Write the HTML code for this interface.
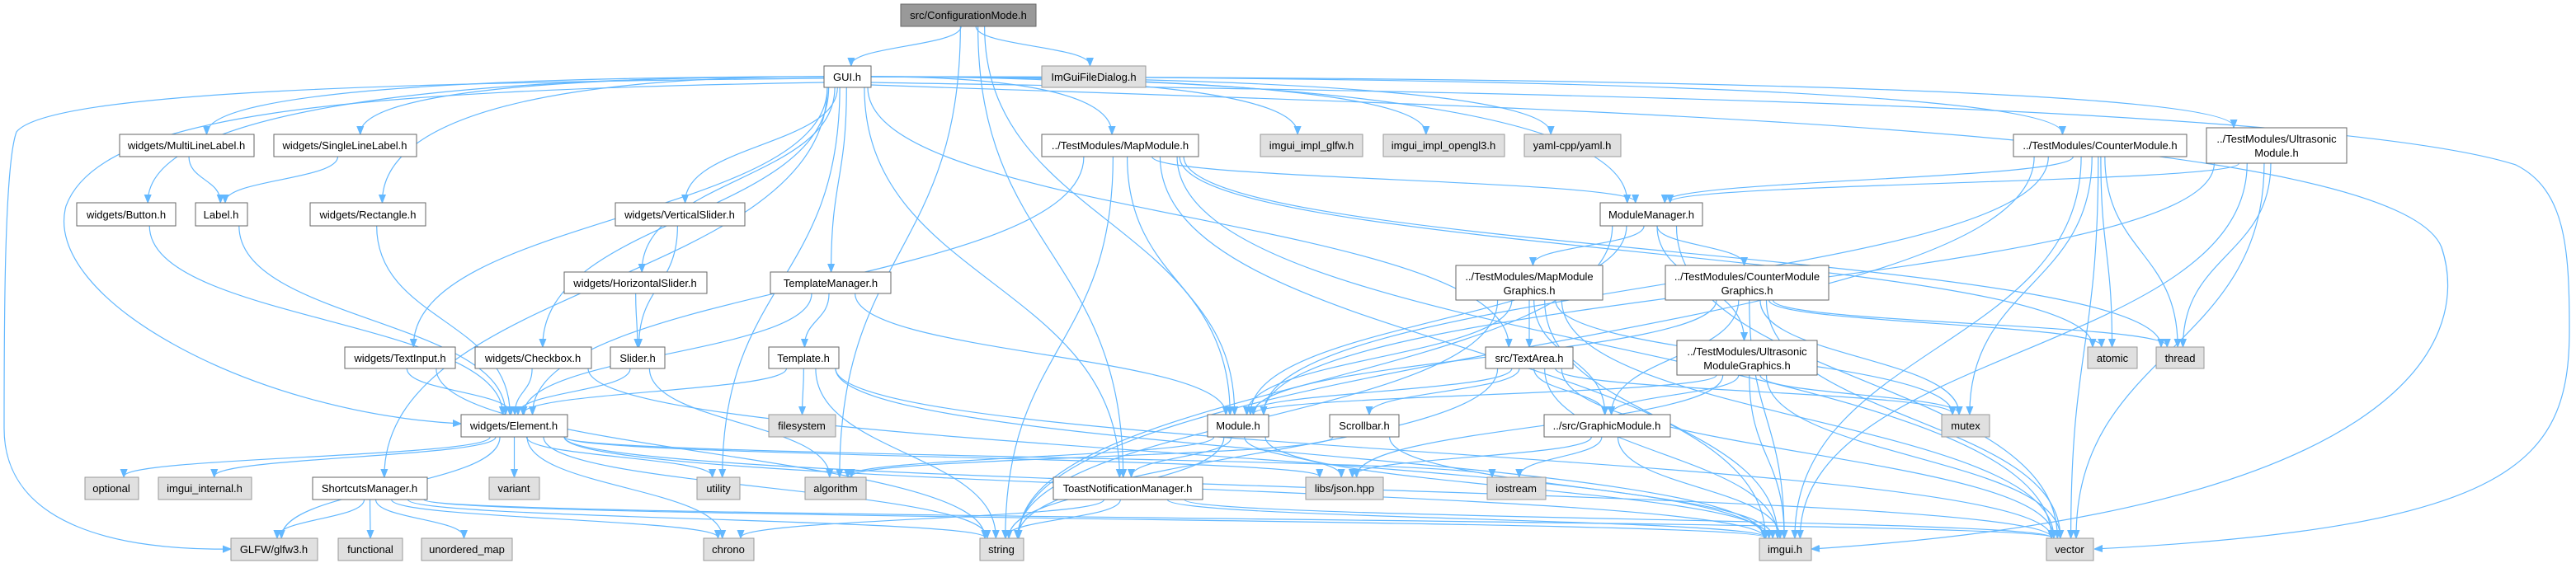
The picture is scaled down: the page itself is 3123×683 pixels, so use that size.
<!DOCTYPE html>
<html><head><meta charset="utf-8"><style>
html,body{margin:0;padding:0;background:#fff;}
svg{display:block;}
text{font-family:"Liberation Sans",sans-serif;font-size:13px;fill:#000;}
</style></head><body>
<svg id="g" width="3123" height="683" viewBox="0 0 3123 683" xmlns="http://www.w3.org/2000/svg">
<defs><marker id="ah" markerWidth="10" markerHeight="10" refX="9" refY="5" orient="auto" markerUnits="userSpaceOnUse"><path d="M0,1 L10,5 L0,9 z" fill="#63b8ff" stroke="#63b8ff"/></marker></defs>
<g id="edges" fill="none" stroke="#63b8ff" stroke-width="1.2"></g>
<g id="nodes">
<rect x="1092" y="5" width="164" height="27" fill="#999" stroke="#666"/><text x="1174" y="23" text-anchor="middle">src/ConfigurationMode.h</text>
<rect x="999" y="80" width="57" height="26" fill="#fff" stroke="#666"/><text x="1027" y="98" text-anchor="middle">GUI.h</text>
<rect x="1263" y="80" width="126" height="26" fill="#e0e0e0" stroke="#999"/><text x="1326" y="98" text-anchor="middle">ImGuiFileDialog.h</text>
<rect x="145" y="163" width="163" height="27" fill="#fff" stroke="#666"/><text x="226" y="181" text-anchor="middle">widgets/MultiLineLabel.h</text>
<rect x="332" y="163" width="173" height="27" fill="#fff" stroke="#666"/><text x="418" y="181" text-anchor="middle">widgets/SingleLineLabel.h</text>
<rect x="1263" y="163" width="190" height="27" fill="#fff" stroke="#666"/><text x="1358" y="181" text-anchor="middle">../TestModules/MapModule.h</text>
<rect x="1528" y="163" width="124" height="27" fill="#e0e0e0" stroke="#999"/><text x="1590" y="181" text-anchor="middle">imgui_impl_glfw.h</text>
<rect x="1677" y="163" width="147" height="27" fill="#e0e0e0" stroke="#999"/><text x="1750" y="181" text-anchor="middle">imgui_impl_opengl3.h</text>
<rect x="1848" y="163" width="117" height="27" fill="#e0e0e0" stroke="#999"/><text x="1906" y="181" text-anchor="middle">yaml-cpp/yaml.h</text>
<rect x="2441" y="163" width="210" height="27" fill="#fff" stroke="#666"/><text x="2546" y="181" text-anchor="middle">../TestModules/CounterModule.h</text>
<rect x="2675" y="155" width="170" height="43" fill="#fff" stroke="#666"/><text x="2760" y="173" text-anchor="middle">../TestModules/Ultrasonic</text><text x="2760" y="190" text-anchor="middle">Module.h</text>
<rect x="93" y="246" width="120" height="28" fill="#fff" stroke="#666"/><text x="153" y="265" text-anchor="middle">widgets/Button.h</text>
<rect x="237" y="246" width="63" height="28" fill="#fff" stroke="#666"/><text x="268" y="265" text-anchor="middle">Label.h</text>
<rect x="376" y="246" width="140" height="28" fill="#fff" stroke="#666"/><text x="446" y="265" text-anchor="middle">widgets/Rectangle.h</text>
<rect x="746" y="246" width="157" height="28" fill="#fff" stroke="#666"/><text x="824" y="265" text-anchor="middle">widgets/VerticalSlider.h</text>
<rect x="1940" y="246" width="124" height="28" fill="#fff" stroke="#666"/><text x="2002" y="265" text-anchor="middle">ModuleManager.h</text>
<rect x="684" y="330" width="173" height="26" fill="#fff" stroke="#666"/><text x="770" y="348" text-anchor="middle">widgets/HorizontalSlider.h</text>
<rect x="934" y="330" width="146" height="26" fill="#fff" stroke="#666"/><text x="1007" y="348" text-anchor="middle">TemplateManager.h</text>
<rect x="1765" y="322" width="178" height="42" fill="#fff" stroke="#666"/><text x="1854" y="340" text-anchor="middle">../TestModules/MapModule</text><text x="1854" y="357" text-anchor="middle">Graphics.h</text>
<rect x="2019" y="322" width="198" height="42" fill="#fff" stroke="#666"/><text x="2118" y="340" text-anchor="middle">../TestModules/CounterModule</text><text x="2118" y="357" text-anchor="middle">Graphics.h</text>
<rect x="418" y="421" width="134" height="26" fill="#fff" stroke="#666"/><text x="485" y="439" text-anchor="middle">widgets/TextInput.h</text>
<rect x="576" y="421" width="141" height="26" fill="#fff" stroke="#666"/><text x="646" y="439" text-anchor="middle">widgets/Checkbox.h</text>
<rect x="740" y="421" width="66" height="26" fill="#fff" stroke="#666"/><text x="773" y="439" text-anchor="middle">Slider.h</text>
<rect x="932" y="421" width="85" height="26" fill="#fff" stroke="#666"/><text x="974" y="439" text-anchor="middle">Template.h</text>
<rect x="1801" y="421" width="106" height="26" fill="#fff" stroke="#666"/><text x="1854" y="439" text-anchor="middle">src/TextArea.h</text>
<rect x="2033" y="413" width="170" height="42" fill="#fff" stroke="#666"/><text x="2118" y="431" text-anchor="middle">../TestModules/Ultrasonic</text><text x="2118" y="448" text-anchor="middle">ModuleGraphics.h</text>
<rect x="2531" y="421" width="60" height="26" fill="#e0e0e0" stroke="#999"/><text x="2561" y="439" text-anchor="middle">atomic</text>
<rect x="2614" y="421" width="58" height="26" fill="#e0e0e0" stroke="#999"/><text x="2643" y="439" text-anchor="middle">thread</text>
<rect x="559" y="503" width="129" height="27" fill="#fff" stroke="#666"/><text x="623" y="521" text-anchor="middle">widgets/Element.h</text>
<rect x="932" y="503" width="81" height="27" fill="#e0e0e0" stroke="#999"/><text x="972" y="521" text-anchor="middle">filesystem</text>
<rect x="1464" y="503" width="74" height="27" fill="#fff" stroke="#666"/><text x="1501" y="521" text-anchor="middle">Module.h</text>
<rect x="1612" y="503" width="84" height="27" fill="#fff" stroke="#666"/><text x="1654" y="521" text-anchor="middle">Scrollbar.h</text>
<rect x="1872" y="503" width="153" height="27" fill="#fff" stroke="#666"/><text x="1948" y="521" text-anchor="middle">../src/GraphicModule.h</text>
<rect x="2354" y="503" width="58" height="27" fill="#e0e0e0" stroke="#999"/><text x="2383" y="521" text-anchor="middle">mutex</text>
<rect x="103" y="579" width="65" height="27" fill="#e0e0e0" stroke="#999"/><text x="135" y="597" text-anchor="middle">optional</text>
<rect x="192" y="579" width="113" height="27" fill="#e0e0e0" stroke="#999"/><text x="248" y="597" text-anchor="middle">imgui_internal.h</text>
<rect x="379" y="579" width="139" height="27" fill="#fff" stroke="#666"/><text x="448" y="597" text-anchor="middle">ShortcutsManager.h</text>
<rect x="593" y="579" width="61" height="27" fill="#e0e0e0" stroke="#999"/><text x="623" y="597" text-anchor="middle">variant</text>
<rect x="845" y="579" width="52" height="27" fill="#e0e0e0" stroke="#999"/><text x="871" y="597" text-anchor="middle">utility</text>
<rect x="976" y="579" width="74" height="27" fill="#e0e0e0" stroke="#999"/><text x="1013" y="597" text-anchor="middle">algorithm</text>
<rect x="1277" y="579" width="181" height="27" fill="#fff" stroke="#666"/><text x="1367" y="597" text-anchor="middle">ToastNotificationManager.h</text>
<rect x="1583" y="579" width="94" height="27" fill="#e0e0e0" stroke="#999"/><text x="1630" y="597" text-anchor="middle">libs/json.hpp</text>
<rect x="1803" y="579" width="71" height="27" fill="#e0e0e0" stroke="#999"/><text x="1838" y="597" text-anchor="middle">iostream</text>
<rect x="280" y="653" width="105" height="27" fill="#e0e0e0" stroke="#999"/><text x="332" y="671" text-anchor="middle">GLFW/glfw3.h</text>
<rect x="410" y="653" width="78" height="27" fill="#e0e0e0" stroke="#999"/><text x="449" y="671" text-anchor="middle">functional</text>
<rect x="511" y="653" width="110" height="27" fill="#e0e0e0" stroke="#999"/><text x="566" y="671" text-anchor="middle">unordered_map</text>
<rect x="853" y="653" width="61" height="27" fill="#e0e0e0" stroke="#999"/><text x="883" y="671" text-anchor="middle">chrono</text>
<rect x="1188" y="653" width="53" height="27" fill="#e0e0e0" stroke="#999"/><text x="1214" y="671" text-anchor="middle">string</text>
<rect x="2133" y="653" width="63" height="27" fill="#e0e0e0" stroke="#999"/><text x="2164" y="671" text-anchor="middle">imgui.h</text>
<rect x="2481" y="653" width="57" height="27" fill="#e0e0e0" stroke="#999"/><text x="2509" y="671" text-anchor="middle">vector</text>
</g>
</svg>
<script>
var N={Config:[1092,1256,5,32],GUI:[999,1056,80,106],IFD:[1263,1389,80,106],MLL:[145,308,163,190],SLL:[332,505,163,190],MapM:[1263,1453,163,190],glfwi:[1528,1652,163,190],ogl:[1677,1824,163,190],yaml:[1848,1965,163,190],CntM:[2441,2651,163,190],UltM:[2675,2845,155,198],Btn:[93,213,246,274],Label:[237,300,246,274],Rect:[376,516,246,274],VS:[746,903,246,274],MM:[1940,2064,246,274],HS:[684,857,330,356],TM:[934,1080,330,356],MapG:[1765,1943,322,364],CntG:[2019,2217,322,364],TI:[418,552,421,447],CB:[576,717,421,447],Slider:[740,806,421,447],Tmpl:[932,1017,421,447],TA:[1801,1907,421,447],UltG:[2033,2203,413,455],atomic:[2531,2591,421,447],thread:[2614,2672,421,447],El:[559,688,503,530],fs:[932,1013,503,530],Mod:[1464,1538,503,530],SB:[1612,1696,503,530],GM:[1872,2025,503,530],mutex:[2354,2412,503,530],opt:[103,168,579,606],imint:[192,305,579,606],SM:[379,518,579,606],variant:[593,654,579,606],utility:[845,897,579,606],algo:[976,1050,579,606],Toast:[1277,1458,579,606],json:[1583,1677,579,606],iostream:[1803,1874,579,606],GLFW:[280,385,653,680],func:[410,488,653,680],umap:[511,621,653,680],chrono:[853,914,653,680],string:[1188,1241,653,680],imgui:[2133,2196,653,680],vector:[2481,2538,653,680]};
var E={Config:"GUI IFD algo Mod Toast",GUI:"MLL SLL Btn Rect VS HS TM TI CB SM utility MapM glfwi ogl yaml MM CntM UltM TA Toast",MLL:"Label",SLL:"Label",Label:"El",Btn:"El",Rect:"El",VS:"Slider",HS:"Slider",Slider:"El algo",TI:"El string",CB:"El imgui",TM:"Tmpl El Mod",Tmpl:"fs El string vector imgui",El:"opt imint GLFW variant utility chrono string vector imgui json iostream",SM:"GLFW func umap chrono string vector imgui",MapM:"Mod MM string imgui vector El atomic thread",MM:"MapG CntG UltG Mod string vector",MapG:"TA Mod GM imgui vector mutex string",CntG:"GM Mod imgui vector mutex atomic thread",UltG:"GM Mod imgui vector mutex json",TA:"Mod SB GM imgui string vector mutex",Mod:"Toast json string imgui algo",SB:"imgui algo",GM:"json iostream imgui",Toast:"chrono string imgui vector",CntM:"MM Mod atomic thread mutex imgui vector string",UltM:"MM thread imgui vector Mod"};
var g=document.getElementById("edges"),s="";
function cl(v,a,b){return Math.max(a,Math.min(b,v));}
for(var a in E){E[a].split(" ").forEach(function(b){var S=N[a],T=N[b];var sc=(S[0]+S[1])/2,tc=(T[0]+T[1])/2;
var tx=cl(tc+(sc-tc)*0.03,T[0]+6,T[1]-6),ty=T[2];
var dx=tc-sc,dyy=T[2]-S[3];
if(a=="GUI" && Math.abs(dx)>3*dyy && dyy<300){var sx=dx<0?S[0]:S[1],sy=(S[2]+S[3])/2;
s+='<path d="M'+sx+','+sy+' C'+(sx+(tx-sx)*0.6)+','+sy+' '+tx+','+(sy+(ty-sy)*0.3)+' '+tx+','+(ty-1)+'" marker-end="url(#ah)"/>';}
else{var sx=cl(sc+dx*0.06,S[0]+4,S[1]-4),sy=S[3];var dy=(ty-sy)*0.5;
s+='<path d="M'+sx+','+sy+' C'+sx+','+(sy+dy)+' '+tx+','+(ty-dy)+' '+tx+','+(ty-1)+'" marker-end="url(#ah)"/>';}});}
s+='<path d="M999,95 C500,100 60,110 20,160 C5,200 5,400 5,520 C5,640 150,668 279,666" marker-end="url(#ah)"/>';
s+='<path d="M1056,100 C1600,110 2800,120 3050,200 C3110,230 3115,300 3115,400 C3115,560 3050,640 2540,666" marker-end="url(#ah)"/>';
s+='<path d="M999,100 C400,110 120,140 80,250 C50,360 300,500 558,514" marker-end="url(#ah)"/>';
s+='<path d="M1056,103 C1800,130 2900,150 2960,300 C3000,420 2900,620 2197,666" marker-end="url(#ah)"/>';
g.innerHTML=s;
</script>
</body></html>
